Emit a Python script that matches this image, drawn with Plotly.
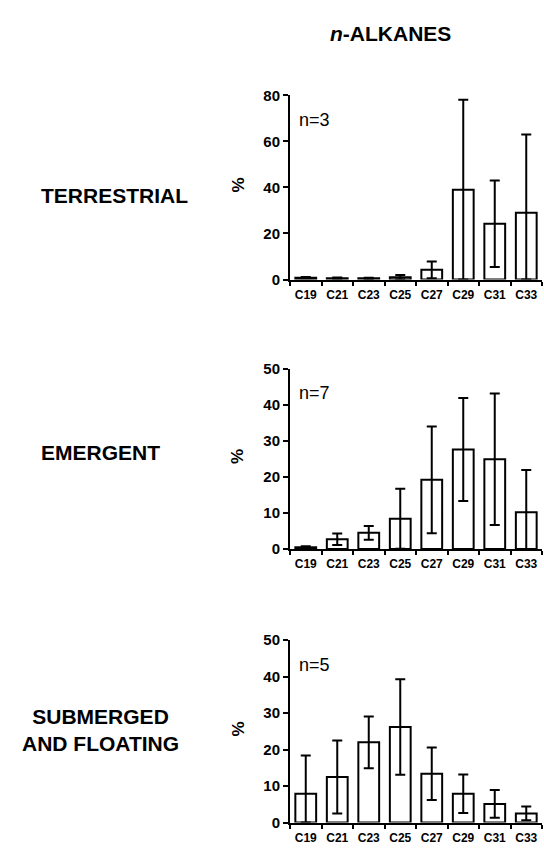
import plotly.graph_objects as go

W, H = 544, 857

categories = ["C19", "C21", "C23", "C25", "C27", "C29", "C31", "C33"]

terrestrial_mean = [0.8, 0.6, 0.5, 1.0, 4.2, 39.0, 24.2, 29.0]
terrestrial_sd = [0.3, 0.3, 0.3, 1.0, 3.6, 39.0, 18.8, 34.0]

emergent_mean = [0.5, 2.7, 4.5, 8.4, 19.2, 27.6, 24.9, 10.2]
emergent_sd = [0.3, 1.6, 1.9, 8.3, 14.8, 14.3, 18.2, 11.7]

submerged_mean = [7.9, 12.5, 22.0, 26.2, 13.4, 7.9, 5.1, 2.5]
submerged_sd = [10.5, 10.0, 7.1, 13.1, 7.2, 5.3, 3.8, 1.9]

n_labels = ["n=3", "n=7", "n=5"]
group_labels = ["TERRESTRIAL", "EMERGENT", "SUBMERGED<br>AND FLOATING"]
y_max = [80, 50, 50]
y_dtick = [20, 10, 10]
title = "<i>n</i>-ALKANES"

FONT = "Liberation Sans, Arial, Helvetica, sans-serif"

def py(px):
    return 1 - px / H

def pxx(px):
    return px / W

# panel geometry in pixels: (top of axis, bottom/zero)
panels = [(88, 276), (367, 551), (644, 830)]
x0_px, x1_px = 290, 542

series = [
    (terrestrial_mean, terrestrial_sd),
    (emergent_mean, emergent_sd),
    (submerged_mean, submerged_sd),
]

fig = go.Figure()
layout = dict(
    width=W, height=H,
    margin=dict(l=0, r=0, t=0, b=0),
    paper_bgcolor="white", plot_bgcolor="white",
    showlegend=False,
    font=dict(family=FONT, color="black"),
)
annotations = []

for i, ((mean, sd), (top, bot)) in enumerate(zip(series, panels)):
    k = "" if i == 0 else str(i + 1)
    minus = [min(s, m) for m, s in zip(mean, sd)]
    fig.add_trace(go.Bar(
        x=categories, y=mean,
        xaxis="x" + k, yaxis="y" + k,
        width=0.66,
        marker=dict(color="white", line=dict(color="black", width=2)),
        error_y=dict(type="data", symmetric=False, array=sd, arrayminus=minus,
                     color="black", thickness=2, width=5),
    ))
    layout["xaxis" + k] = dict(
        domain=[pxx(x0_px), pxx(x1_px)],
        anchor="y" + k,
        type="category",
        range=[-0.5, 7.5],
        showline=True, linecolor="black", linewidth=2,
        ticks="outside", ticklen=4, tickwidth=1.5, tickcolor="black",
        tickson="boundaries",
        tickangle=0,
        ticklabelstandoff=3,
        showgrid=False, zeroline=False,
        tickfont=dict(family=FONT, size=12, color="black", weight="bold"),
        fixedrange=True,
    )
    layout["yaxis" + k] = dict(
        domain=[py(bot), py(top)],
        anchor="x" + k,
        range=[0, y_max[i]],
        dtick=y_dtick[i],
        showline=True, linecolor="black", linewidth=2,
        ticks="outside", ticklen=5, tickwidth=1.5, tickcolor="black",
        showgrid=False, zeroline=False,
        tickfont=dict(family=FONT, size=15, color="black", weight="bold"),
        fixedrange=True,
    )
    # n= label
    annotations.append(dict(
        text=n_labels[i], xref="paper", yref="paper",
        x=pxx(297), y=py(top + 25), xanchor="left", yanchor="middle",
        showarrow=False, font=dict(family=FONT, size=18, color="black"),
    ))
    # % label
    annotations.append(dict(
        text="<b>%</b>", xref="paper", yref="paper",
        x=pxx(238), y=py((top + bot) / 2 - 2), xanchor="center", yanchor="middle",
        textangle=-90, showarrow=False,
        font=dict(family=FONT, size=17, color="black"),
    ))

# group labels
annotations.append(dict(
    text="<b>" + group_labels[0] + "</b>", xref="paper", yref="paper",
    x=pxx(39), y=py(190), xanchor="left", yanchor="middle", showarrow=False,
    font=dict(family=FONT, size=21, color="black"),
))
annotations.append(dict(
    text="<b>" + group_labels[1] + "</b>", xref="paper", yref="paper",
    x=pxx(39), y=py(452), xanchor="left", yanchor="middle", showarrow=False,
    font=dict(family=FONT, size=21, color="black"),
))
annotations.append(dict(
    text="<b>" + group_labels[2] + "</b>", xref="paper", yref="paper",
    x=pxx(100), y=py(736), xanchor="center", yanchor="middle", showarrow=False,
    align="center",
    font=dict(family=FONT, size=21, color="black"),
))
# title
annotations.append(dict(
    text="<b>" + title + "</b>", xref="paper", yref="paper",
    x=pxx(390), y=py(25), xanchor="center", yanchor="middle", showarrow=False,
    font=dict(family=FONT, size=21, color="black"),
))

layout["annotations"] = annotations
fig.update_layout(**layout)
fig.write_html("out.html")
